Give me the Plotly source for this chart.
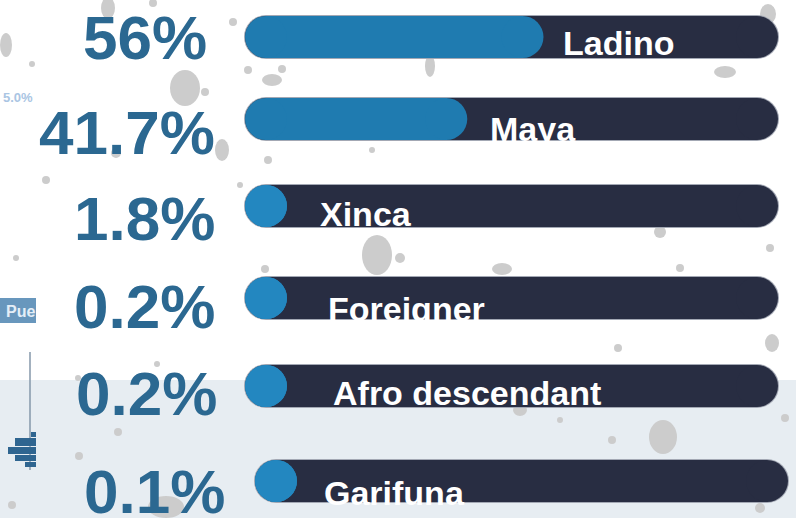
import plotly.graph_objects as go

# ---------------- data ----------------
categories = ["Ladino", "Maya", "Xinca", "Foreigner", "Afro descendant", "Garifuna"]
values = [56, 41.7, 1.8, 0.2, 0.2, 0.1]
pct_labels = ["56%", "41.7%", "1.8%", "0.2%", "0.2%", "0.1%"]

# ---------------- layout constants (pixels) ----------------
W, H = 796, 518
TRACK_X0, TRACK_X1 = 245, 778           # pixel extent of a full (100%) track
PX_PER_UNIT = (TRACK_X1 - TRACK_X0) / 100.0
BAR_H = 42
CAP = (BAR_H / 2) / PX_PER_UNIT          # end-cap radius in value units
row_y = [37, 119, 206, 298, 386, 481]     # bar centres
row_shift_px = [0, 0, 0, 0, 0, 10]        # horizontal shift of each track
pct_right = [209, 217, 217, 217, 219, 227]
pct_y = [37, 132, 218, 306, 393, 491]
label_x = [561, 488, 318, 326, 331, 322]
label_base = [55, 141, 226, 321, 405, 505]
PCT_SIZE = 62
LBL_SIZE = 34

FONT = "Liberation Sans, Arial, sans-serif"
TRACK_COL = "#282d42"
FILL_COL = "#1f7bb0"
DOT_COL = "#2387c0"
PCT_COL = "#2b6891"

xr = [-TRACK_X0 / PX_PER_UNIT, (W - TRACK_X0) / PX_PER_UNIT]

fig = go.Figure()

# tracks
tx, ty = [], []
for i, y in enumerate(row_y):
    s = row_shift_px[i] / PX_PER_UNIT
    tx += [s + CAP, s + 100 - CAP, None]
    ty += [y, y, None]
fig.add_trace(go.Scatter(x=tx, y=ty, mode="lines+markers",
                         line=dict(color="#a3a8b4", width=BAR_H + 2),
                         marker=dict(size=BAR_H + 2, color="#a3a8b4", line=dict(width=0)),
                         hoverinfo="skip", showlegend=False))
fig.add_trace(go.Scatter(x=tx, y=ty, mode="lines+markers",
                         line=dict(color=TRACK_COL, width=BAR_H),
                         marker=dict(size=BAR_H, color=TRACK_COL, line=dict(width=0)),
                         hoverinfo="skip", showlegend=False))

# fills
for i, (v, y) in enumerate(zip(values, row_y)):
    s = row_shift_px[i] / PX_PER_UNIT
    a = s + CAP
    b = s + max(CAP, v - CAP)
    col = FILL_COL if v - CAP > CAP else DOT_COL
    fig.add_trace(go.Scatter(x=[a, b], y=[y, y], mode="lines+markers",
                             line=dict(color=col, width=BAR_H),
                             marker=dict(size=BAR_H, color=col, line=dict(width=0)),
                             name=categories[i], hoverinfo="skip", showlegend=False))

# dummy trace to activate x2
fig.add_trace(go.Scatter(x=[0], y=[0], xaxis="x2", mode="markers",
                         marker=dict(size=1, opacity=0), hoverinfo="skip", showlegend=False))

shapes = []
# lower band
shapes.append(dict(type="rect", xref="x2", yref="y", x0=0, x1=W, y0=380, y1=H,
                   fillcolor="#e7edf2", line=dict(width=0), layer="below"))
# speckles (decoration)
speckles = [(108, 8, 7, 11), (6, 45, 6, 12), (32, 64, 3, 3), (153, 3, 4, 4), (185, 88, 15, 18),
            (205, 92, 4, 4), (233, 22, 4, 4), (248, 70, 4, 4), (272, 80, 10, 6), (282, 69, 4, 4),
            (222, 150, 7, 11), (116, 153, 5, 5), (268, 160, 4, 4), (46, 180, 4, 4), (430, 66, 5, 11),
            (725, 72, 11, 6), (768, 14, 8, 10), (690, 205, 6, 20), (555, 196, 3, 3), (372, 150, 3, 3),
            (770, 248, 4, 4), (377, 255, 15, 20), (502, 269, 10, 6), (660, 232, 6, 6), (265, 269, 4, 4),
            (16, 258, 3, 3), (772, 343, 7, 9), (618, 348, 4, 4), (663, 437, 14, 17), (785, 418, 4, 4),
            (520, 410, 7, 6), (612, 440, 4, 4), (118, 432, 4, 4), (79, 456, 4, 4), (166, 507, 18, 11),
            (760, 508, 5, 5), (12, 505, 4, 4), (78, 378, 3, 3), (157, 364, 3, 3), (400, 258, 5, 5),
            (680, 268, 4, 4), (560, 420, 3, 3), (420, 190, 5, 5), (240, 185, 3, 3)]
for cx, cy, rx, ry in speckles:
    shapes.append(dict(type="circle", xref="x2", yref="y", x0=cx - rx, x1=cx + rx,
                       y0=cy - ry, y1=cy + ry, fillcolor="#cccccc", line=dict(width=0),
                       layer="below"))
# left-edge fragments
shapes.append(dict(type="rect", xref="x2", yref="y", x0=-2, x1=36, y0=298, y1=323,
                   fillcolor="#6897bd", line=dict(width=0), layer="below"))
shapes.append(dict(type="line", xref="x2", yref="y", x0=30, x1=30, y0=352, y1=470,
                   line=dict(color="#8597aa", width=1.5), layer="below"))
for x0, y0, y1 in [(31, 432, 437), (15, 438, 446), (8, 447, 454), (15, 455, 461), (25, 462, 467)]:
    shapes.append(dict(type="rect", xref="x2", yref="y", x0=x0, x1=36, y0=y0, y1=y1,
                       fillcolor="#2f6590", line=dict(width=0), layer="below"))

annotations = []
for i in range(len(values)):
    annotations.append(dict(xref="x2", yref="y", x=pct_right[i], y=pct_y[i],
                            text=pct_labels[i], showarrow=False, xanchor="right",
                            yanchor="middle",
                            font=dict(family=FONT, size=PCT_SIZE, color=PCT_COL, weight="bold")))
    annotations.append(dict(xref="x2", yref="y", x=label_x[i], y=label_base[i] - 0.3465 * LBL_SIZE,
                            text=categories[i], showarrow=False, xanchor="left",
                            yanchor="middle",
                            font=dict(family=FONT, size=LBL_SIZE, color="white", weight="bold")))
annotations.append(dict(xref="x2", yref="y", x=35, y=97, text="5.0%", showarrow=False,
                        xanchor="right", yanchor="middle",
                        font=dict(family=FONT, size=13, color="#aac5e3", weight="bold")))
annotations.append(dict(xref="x2", yref="y", x=4, y=311, text="Pue", showarrow=False,
                        xanchor="left", yanchor="middle",
                        font=dict(family=FONT, size=16, color="#e4eef7", weight="bold")))

fig.update_layout(
    width=W, height=H,
    margin=dict(l=0, r=0, t=0, b=0),
    paper_bgcolor="white", plot_bgcolor="white",
    xaxis=dict(range=xr, visible=False, fixedrange=True),
    xaxis2=dict(range=[0, W], visible=False, overlaying="x", fixedrange=True),
    yaxis=dict(range=[H, 0], visible=False, fixedrange=True),
    shapes=shapes, annotations=annotations,
    showlegend=False,
)

fig.write_html("out.html", config={"displayModeBar": False},
               post_script="document.body.style.margin='0';document.body.style.overflow='hidden';")
